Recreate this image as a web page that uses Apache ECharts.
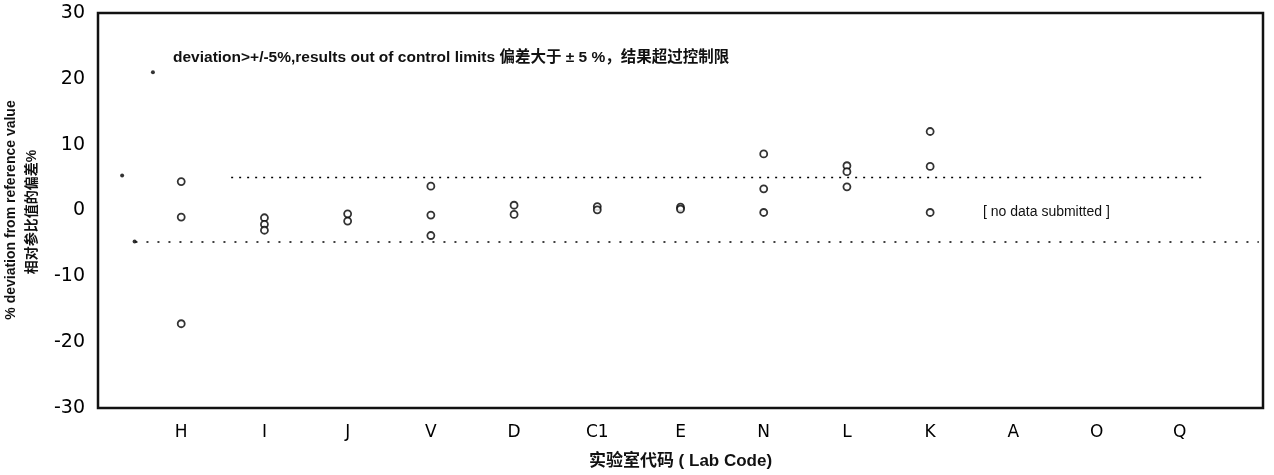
<!DOCTYPE html>
<html>
<head>
<meta charset="utf-8">
<script src="https://cdn.jsdelivr.net/npm/echarts@6/dist/echarts.min.js"></script>
<style>
  html, body { margin: 0; padding: 0; background: #fff; }
  #chart { width: 1274px; height: 475px; }
</style>
</head>
<body>
<div id="chart"></div>
<script>
// lab codes along the x axis (position 1..13)
const labCodes = ['H', 'I', 'J', 'V', 'D', 'C1', 'E', 'N', 'L', 'K', 'A', 'O', 'Q'];

// % deviation per lab (A, O, Q: no data submitted)
const devH = [4.4, -1.0, -17.2];
const devI = [-1.1, -2.1, -3.0];
const devJ = [-0.5, -1.6];
const devV = [3.7, -0.7, -3.8];
const devD = [0.8, -0.6];
const devC1 = [0.6, 0.1];
const devE = [0.5, 0.2];
const devN = [8.6, 3.3, -0.3];
const devL = [6.8, 5.9, 3.6];
const devK = [12.0, 6.7, -0.3];
const devA = [];
const devO = [];
const devQ = [];

// control limits +/- 5 %
const upperLimit = [[1.6, 5], [13.3, 5]];
const lowerLimit = [[0.45, -4.8], [13.95, -4.8]];
// stray marks left of the first lab
const strayDots = [[0.29, 5.3], [0.44, -4.7], [0.66, 21]];

const yTicks = [-30, -20, -10, 0, 10, 20, 30];

const allDev = [devH, devI, devJ, devV, devD, devC1, devE, devN, devL, devK, devA, devO, devQ];
const points = [];
allDev.forEach((vals, i) => vals.forEach(v => points.push([i + 1, v])));

const FONT = '"Liberation Sans", Arial, "Noto Sans CJK SC", sans-serif';
const WIDE = '"DejaVu Sans", "Noto Sans CJK SC", sans-serif';

const chart = echarts.init(document.getElementById('chart'), null, { renderer: 'canvas' });

const option = {
  animation: false,
  backgroundColor: '#fff',
  grid: {
    left: 98, right: 11, top: 13, bottom: 64,
    show: true, borderColor: '#111', borderWidth: 2.5, backgroundColor: 'transparent'
  },
  xAxis: {
    type: 'value',
    min: 0, max: 14, interval: 1,
    axisLine: { show: false },
    axisTick: { show: false },
    splitLine: { show: false },
    axisLabel: {
      margin: 16,
      fontFamily: WIDE, fontSize: 17, color: '#000',
      formatter: v => labCodes[v - 1] || ''
    },
    name: '实验室代码 ( Lab Code)',
    nameLocation: 'middle',
    nameGap: 45,
    nameTextStyle: { fontFamily: FONT, fontSize: 17, fontWeight: 'bold', color: '#111' }
  },
  yAxis: {
    type: 'value',
    min: yTicks[0], max: yTicks[yTicks.length - 1], interval: 10,
    axisLine: { show: false },
    axisTick: { show: false },
    splitLine: { show: false },
    axisLabel: { margin: 13, fontFamily: WIDE, fontSize: 19, color: '#000' }
  },
  graphic: [
    {
      type: 'text', x: 11, y: 210, rotation: Math.PI / 2,
      style: {
        text: '% deviation from reference value', fill: '#111',
        font: 'bold 14px ' + FONT, textAlign: 'center', textVerticalAlign: 'middle'
      }
    },
    {
      type: 'text', x: 32, y: 212, rotation: Math.PI / 2,
      style: {
        text: '相对参比值的偏差%', fill: '#111',
        font: 'bold 14px ' + FONT, textAlign: 'center', textVerticalAlign: 'middle'
      }
    },
    {
      type: 'text', x: 173, y: 58,
      style: {
        text: 'deviation>+/-5%,results out of control limits 偏差大于 ± 5 %，结果超过控制限',
        fill: '#111', font: 'bold 15.5px ' + FONT, textVerticalAlign: 'middle'
      }
    },
    {
      type: 'text', x: 983, y: 212,
      style: {
        text: '[ no data submitted ]', fill: '#111',
        font: '14px ' + FONT, textVerticalAlign: 'middle'
      }
    }
  ],
  series: [
    {
      name: 'upper limit', type: 'line', data: upperLimit, symbol: 'none',
      lineStyle: { color: '#000', width: 1.5, type: [2, 6] }
    },
    {
      name: 'lower limit', type: 'line', data: lowerLimit, symbol: 'none',
      lineStyle: { color: '#000', width: 1.5, type: [2, 9] }
    },
    {
      name: 'marks', type: 'scatter', data: strayDots,
      symbol: 'circle', symbolSize: 4, itemStyle: { color: '#000' }
    },
    {
      name: 'deviation', type: 'scatter', data: points,
      symbol: 'circle', symbolSize: 7,
      itemStyle: { color: '#fff', borderColor: '#000', borderWidth: 1.8 }
    }
  ]
};

chart.setOption(option);
</script>
</body>
</html>
